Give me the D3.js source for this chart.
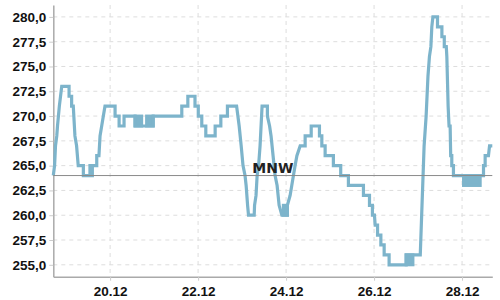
<!DOCTYPE html>
<html>
<head>
<meta charset="utf-8">
<script src="https://cdn.jsdelivr.net/npm/d3@7"></script>
<style>
  body { margin: 0; background: #fff; }
  svg { display: block; font-family: "DejaVu Sans", sans-serif; }
  .grid line { stroke: #ddd; stroke-dasharray: 4,4; }
  .axis path { stroke: #aaa; stroke-width: 1.5; }
  .axis line { stroke: #ccc; }
  .axis text { font-size: 13.5px; font-weight: bold; fill: #111; }
</style>
</head>
<body>
<svg width="500" height="300"></svg>
<script>
// water level readings, hours after 18.12 17:00 and level in cm
const hours = [
  0, 0.7, 1.2, 1.9, 2.3, 3.3, 4.6, 8.6, 8.6, 10.0,
  10.0, 10.9, 11.8, 12.7, 13.6, 16.4, 16.4, 20.0, 20.0, 20.4,
  20.4, 21.3, 21.3, 23.7, 23.7, 24.9, 25.5, 26.4, 27.3, 28.2,
  33.7, 33.7, 35.9, 35.9, 38.6, 38.6, 44.6, 44.6, 54.5, 54.5,
  70.1, 70.1, 73.4, 73.4, 77.3, 77.3, 79.1, 79.1, 81.0, 81.0,
  83.2, 83.2, 88.3, 88.3, 91.4, 91.4, 95.0, 95.0, 100.0, 100.7,
  101.4, 102.5, 103.5, 104.6, 105.2, 106.0, 106.5, 109.6, 109.8, 110.6,
  111.2, 112.0, 112.8, 113.9, 116.8, 116.8, 118.0, 118.8, 119.9, 121.0,
  122.1, 123.2, 124.7, 127.7, 127.7, 129.2, 131.0, 131.9, 132.9, 134.7,
  137.4, 137.4, 140.7, 140.7, 145.2, 145.2, 146.5, 146.5, 148.3, 148.3,
  152.8, 152.8, 156.8, 156.8, 161.0, 161.0, 169.2, 169.2, 172.5, 172.5,
  174.1, 174.1, 175.2, 175.6, 176.9, 176.9, 178.7, 178.7, 180.5, 180.5,
  183.2, 183.2, 192.5, 192.5, 200.2, 202.3, 203.4, 204.4, 205.2, 206.0,
  206.5, 207.1, 209.6, 209.6, 212.0, 212.0, 213.3, 213.3, 214.4, 214.7,
  215.4, 215.9, 216.5, 216.8, 217.4, 217.4, 218.3, 218.3, 234.7, 234.7,
  235.6, 235.6, 237.4, 238.0, 239.5
];
const levels = [
  264, 265, 267, 268, 269, 271, 273, 273, 272, 272,
  271, 271, 268, 267, 265, 265, 264, 264, 265, 265,
  264, 264, 265, 265, 266, 266, 268, 269, 270, 271,
  271, 270, 270, 269, 269, 270, 270, 269, 269, 270,
  270, 271, 271, 272, 272, 271, 271, 270, 270, 269,
  269, 268, 268, 269, 269, 270, 270, 271, 271, 270,
  269, 267, 265, 264, 263, 261, 260, 260, 261, 262,
  264, 265, 267, 271, 271, 270, 269, 268, 266, 264,
  263, 261, 260, 260, 261, 262, 264, 265, 266, 267,
  267, 268, 268, 269, 269, 268, 268, 267, 267, 266,
  266, 265, 265, 264, 264, 263, 263, 262, 262, 261,
  261, 260, 260, 259, 259, 258, 258, 257, 257, 256,
  256, 255, 255, 256, 256, 267, 270, 274, 276, 277,
  279, 280, 280, 279, 279, 278, 278, 277, 277, 276,
  271, 269, 269, 266, 266, 265, 265, 264, 264, 265,
  265, 266, 266, 267, 267
];
// stretches where the reading flips between two levels: start, end, low, high
const flickers = [
  [44.6, 48.2, 269, 270],
  [50.9, 54.5, 269, 270],
  [125.5, 127.7, 260, 261],
  [192.5, 196.2, 255, 256],
  [223.8, 232.9, 263, 264]
];
const mnw = 264;
const mnwLabel = 'MNW';
const yTicks = [255, 257.5, 260, 262.5, 265, 267.5, 270, 272.5, 275, 277.5, 280];
const xTickDays = [20, 22, 24, 26, 28];
const yDomain = [253.8, 281.2];

const startTime = new Date(2023, 11, 18, 17, 0);
const toTime = h => new Date(startTime.getTime() + h * 3600e3);

const lineColor = '#7db4cb';
const width = 500, height = 300;
const margin = {top: 5, right: 7.7, bottom: 23.3, left: 53.3};

const de = d3.formatLocale({decimal: ',', thousands: '.', grouping: [3], currency: ['', ' €']});
const fmtY = de.format('.1f');

const svg = d3.select('svg');

const data = hours.map((h, i) => ({time: toTime(h), level: levels[i]}));

const x = d3.scaleTime()
  .domain(d3.extent(data, d => d.time))
  .range([margin.left, width - margin.right]);
const y = d3.scaleLinear()
  .domain(yDomain)
  .range([height - margin.bottom, margin.top]);

const xTicks = xTickDays.map(d => new Date(2023, 11, d));

// grid
svg.append('g')
  .attr('class', 'grid')
  .selectAll('line.h')
  .data(yTicks)
  .enter()
  .append('line')
    .attr('x1', margin.left)
    .attr('x2', width - margin.right)
    .attr('y1', d => y(d))
    .attr('y2', d => y(d));
svg.append('g')
  .attr('class', 'grid')
  .selectAll('line.v')
  .data(xTicks)
  .enter()
  .append('line')
    .attr('x1', d => x(d))
    .attr('x2', d => x(d))
    .attr('y1', margin.top)
    .attr('y2', height - margin.bottom);

// axes
svg.append('g')
  .attr('class', 'axis')
  .attr('transform', `translate(${margin.left},0)`)
  .call(d3.axisLeft(y).tickValues(yTicks).tickFormat(fmtY).tickSize(4).tickSizeOuter(0).tickPadding(3))
  .call(g => g.selectAll('text').attr('font-family', null).attr('font-size', null));
svg.append('g')
  .attr('class', 'axis')
  .attr('transform', `translate(0,${height - margin.bottom})`)
  .call(d3.axisBottom(x).tickValues(xTicks).tickFormat(d3.timeFormat('%d.%m')).tickSize(4).tickSizeOuter(0).tickPadding(6))
  .call(g => g.selectAll('text').attr('font-family', null).attr('font-size', null));

// flickering stretches
svg.append('g')
  .selectAll('rect')
  .data(flickers)
  .enter()
  .append('rect')
    .attr('x', d => x(toTime(d[0])))
    .attr('width', d => x(toTime(d[1])) - x(toTime(d[0])))
    .attr('y', d => y(d[3]))
    .attr('height', d => y(d[2]) - y(d[3]))
    .attr('fill', lineColor)
    .attr('stroke', lineColor)
    .attr('stroke-width', 3);

const line = d3.line()
  .x(d => x(d.time))
  .y(d => y(d.level));

svg.append('path')
  .datum(data)
  .attr('d', line)
  .attr('fill', 'none')
  .attr('stroke', lineColor)
  .attr('stroke-width', 3.2)
  .attr('stroke-linejoin', 'miter');

// MNW reference line
svg.append('line')
  .attr('x1', margin.left)
  .attr('x2', width - margin.right)
  .attr('y1', y(mnw))
  .attr('y2', y(mnw))
  .attr('stroke', '#8a8a8a')
  .attr('stroke-width', 1);
svg.append('text')
  .attr('x', (margin.left + width - margin.right) / 2)
  .attr('y', y(mnw) - 3)
  .attr('text-anchor', 'middle')
  .attr('font-size', '14px')
  .attr('font-weight', 'bold')
  .attr('fill', '#222')
  .text(mnwLabel);
</script>
</body>
</html>
